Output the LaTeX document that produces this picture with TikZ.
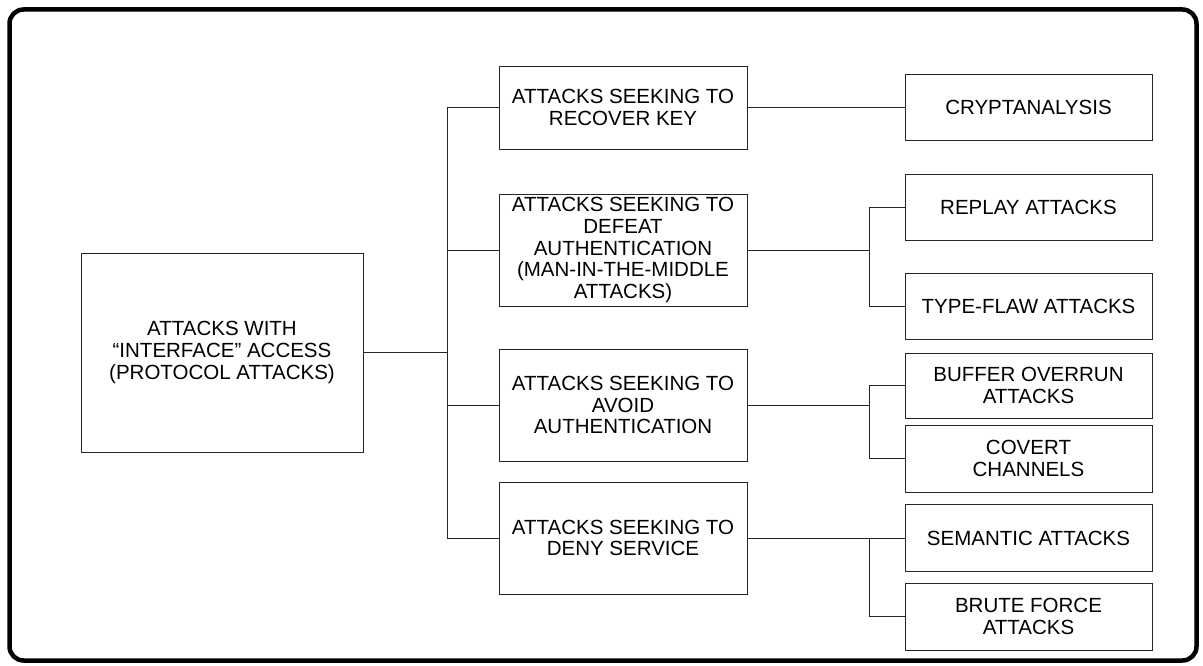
\documentclass[tikz,border=0pt]{standalone}
\usepackage{fontspec}
\setmainfont{Liberation Sans}
\begin{document}
\begin{tikzpicture}[x=1pt,y=-1pt,
  box/.style={draw=black!85, line width=0.9pt, align=center, inner sep=0pt,
    font=\fontsize{20.5}{21.7}\selectfont},
  lvltwo/.style={box, minimum width=248pt},
  lvlthree/.style={box, minimum width=247pt},
  conn/.style={draw=black!85, line width=0.9pt}]
\useasboundingbox (0,0) rectangle (1203,666);
\draw[line width=4.5pt, rounded corners=14pt] (9.5,9.5) rectangle (1196.5,660.5);

\node[box, minimum width=282pt, minimum height=199pt] (root) at (222,352.5)
  {ATTACKS WITH\\“INTERFACE” ACCESS\\(PROTOCOL ATTACKS)};

\node[lvltwo, minimum height=83pt] (b1) at (623,107.5) {ATTACKS SEEKING TO\\RECOVER KEY};
\node[lvltwo, minimum height=112pt] (b2) at (623,250) {ATTACKS SEEKING TO\\DEFEAT\\AUTHENTICATION\\(MAN-IN-THE-MIDDLE\\ATTACKS)};
\node[lvltwo, minimum height=112pt] (b3) at (623,405) {ATTACKS SEEKING TO\\AVOID\\AUTHENTICATION};
\node[lvltwo, minimum height=112pt] (b4) at (623,538) {ATTACKS SEEKING TO\\DENY SERVICE};

\node[lvlthree, minimum height=66pt] (crypt) at (1028.5,107.5) {CRYPTANALYSIS};
\node[lvlthree, minimum height=66pt] (replay) at (1028.5,207) {REPLAY ATTACKS};
\node[lvlthree, minimum height=66pt] (typeflaw) at (1028.5,306) {TYPE-FLAW ATTACKS};
\node[lvlthree, minimum height=65pt] (buffer) at (1028.5,385.5) {BUFFER OVERRUN\\ATTACKS};
\node[lvlthree, minimum height=67pt] (covert) at (1028.5,458.5) {COVERT\\CHANNELS};
\node[lvlthree, minimum height=67pt] (semantic) at (1028.5,538) {SEMANTIC ATTACKS};
\node[lvlthree, minimum height=67pt] (brute) at (1028.5,616.5) {BRUTE FORCE\\ATTACKS};

\coordinate (j0) at (447,352.5);
\coordinate (j2) at (869,250);
\coordinate (j3) at (869,405);
\coordinate (j4) at (869,538);

\draw[conn] (root.east) -- (j0);
\draw[conn] (b1.west) -| (j0);
\draw[conn] (b2.west) -| (j0);
\draw[conn] (b3.west) -| (j0);
\draw[conn] (b4.west) -| (j0);

\draw[conn] (b1.east) -- (crypt.west);

\draw[conn] (b2.east) -- (j2);
\draw[conn] (replay.west) -| (j2);
\draw[conn] (typeflaw.west) -| (j2);

\draw[conn] (b3.east) -- (j3);
\draw[conn] (buffer.west) -| (j3);
\draw[conn] (covert.west) -| (j3);

\draw[conn] (b4.east) -- (j4);
\draw[conn] (semantic.west) -| (j4);
\draw[conn] (brute.west) -| (j4);
\end{tikzpicture}
\end{document}
